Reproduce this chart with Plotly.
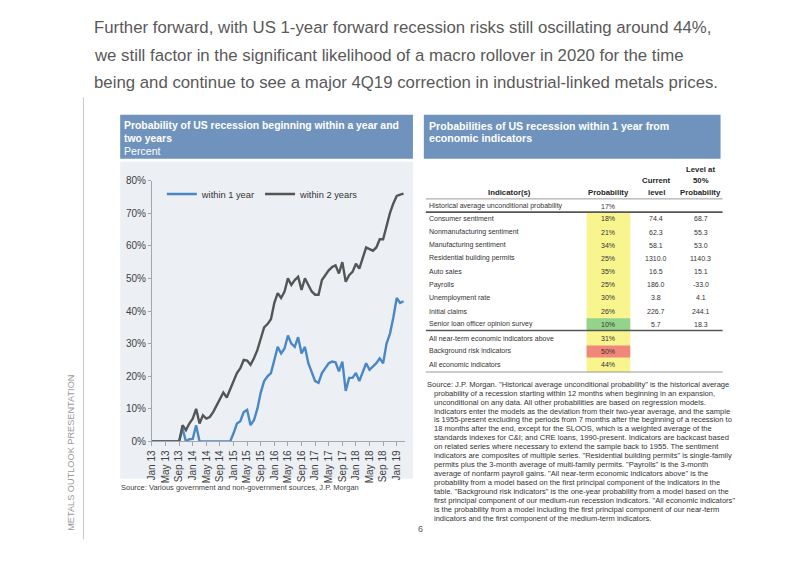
import plotly.graph_objects as go

# The page body keeps the browser's default 8px margin, so the figure is sized to
# fill the 802x567 window exactly and slide coordinates are shifted by that margin.
PAGE_W, PAGE_H = 802, 567
M = 8
W, H = PAGE_W - 2 * M, PAGE_H - 2 * M
FONT = "Liberation Sans, Arial, sans-serif"

# ---------------- data ----------------
months_idx = list(range(75))  # Jan 13 ... Mar 19 (monthly)
tick_labels = ["Jan 13", "May 13", "Sep 13", "Jan 14", "May 14", "Sep 14", "Jan 15",
               "May 15", "Sep 15", "Jan 16", "May 16", "Sep 16", "Jan 17", "May 17",
               "Sep 17", "Jan 18", "May 18", "Sep 18", "Jan 19"]

within_1_year = [0, 0, 0, 0, 0, 0, 0, 0, 0, 4, 0, 0.7, 0.8, 5,
                 0, 0, 0, 0, 0, 0, 0, 0, 0, 0,
                 2.5, 5.5, 6.2, 9, 9.7, 5, 6.5, 10, 15, 18.5, 20, 21, 25, 29, 27, 28.5,
                 32.5, 30, 29, 32, 27, 29, 24, 21, 18.5, 18, 21, 22.5, 24, 24.5, 24.3,
                 21.5, 24.5, 15.5, 19.5, 19.5, 21, 18.5, 21.5, 24, 22, 23, 24, 25.5, 24,
                 30, 33, 38, 44, 42.5, 43]

within_2_years = [0, 0, 0, 0, 0, 0, 0, 0, 0, 5, 3.5, 5.5, 7, 10, 5.5, 8, 7, 7.5, 9, 11,
                  13, 15, 13.5, 16, 18, 21, 22.5, 25, 24.8, 23.5, 25.5, 28, 31.5, 35, 36,
                  37.5, 42.5, 45.5, 44, 46, 50, 48, 49.5, 50.5, 46.5, 50, 48, 46, 45, 45,
                  49.5, 51, 52.5, 53.5, 54, 51.5, 55, 49, 51, 52, 54.5, 53, 56, 59.5, 59,
                  58.5, 59.5, 62, 62, 66, 70, 73, 75.3, 75.7, 76]

indicators = ["Historical average unconditional probability", "Consumer sentiment",
              "Nonmanufacturing sentiment", "Manufacturing sentiment",
              "Residential building permits", "Auto sales", "Payrolls",
              "Unemployment rate", "Initial claims", "Senior loan officer opinion survey",
              "All near-term economic indicators above", "Background risk indicators",
              "All economic indicators"]
probability = ["17%", "18%", "21%", "34%", "25%", "35%", "25%", "30%", "26%", "10%",
               "31%", "50%", "44%"]
current_level = ["", "74.4", "62.3", "58.1", "1310.0", "16.5", "186.0", "3.8", "226.7",
                 "5.7", "", "", ""]
level_at_50 = ["", "68.7", "55.3", "53.0", "1140.3", "15.1", "-33.0", "4.1", "244.1",
               "18.3", "", "", ""]

title_lines = [
    "Further forward, with US 1-year forward recession risks still oscillating around 44%,",
    "we still factor in the significant likelihood of a macro rollover in 2020 for the time",
    "being and continue to see a major 4Q19 correction in industrial-linked metals prices.",
]

footnote_lines = [
    "Source: J.P. Morgan. \"Historical average unconditional probability\" is the historical average",
    "probability of a recession starting within 12 months when beginning in an expansion,",
    "unconditional on any data. All other probabilities are based on regression models.",
    "Indicators enter the models as the deviation from their two-year average, and the sample",
    "is 1955-present excluding the periods from 7 months after the beginning of a recession to",
    "18 months after the end, except for the SLOOS, which is a weighted average of the",
    "standards indexes for C&amp;I; and CRE loans, 1990-present. Indicators are backcast based",
    "on related series where necessary to extend the sample back to 1955. The sentiment",
    "indicators are composites of multiple series. \"Residential building permits\" is single-family",
    "permits plus the 3-month average of multi-family permits. \"Payrolls\" is the 3-month",
    "average of nonfarm payroll gains. \"All near-term economic indicators above\" is the",
    "probability from a model based on the first principal component of the indicators in the",
    "table. \"Background risk indicators\" is the one-year probability from a model based on the",
    "first principal component of our medium-run recession indicators. \"All economic indicators\"",
    "is the probability from a model including the first principal component of our near-term",
    "indicators and the first component of the medium-term indicators.",
]

# ---------------- helpers (page pixel -> paper fraction) ----------------
def px(x):
    return (x - M) / W

def py(y):
    return 1 - (y - M) / H

annotations = []
shapes = []

def txt(x, y, s, size, color="#333333", xanchor="left", angle=0):
    annotations.append(dict(x=px(x), y=py(y), xref="paper", yref="paper", text=s,
                            showarrow=False, xanchor=xanchor, yanchor="middle",
                            textangle=angle, borderpad=0,
                            font=dict(size=size, color=color, family=FONT)))

def rect(x0, y0, x1, y1, fill=None, line=None, lw=0, layer="below"):
    shapes.append(dict(type="rect", xref="paper", yref="paper",
                       x0=px(x0), x1=px(x1), y0=py(y1), y1=py(y0),
                       fillcolor=fill if fill else "rgba(0,0,0,0)",
                       line=dict(color=line if line else "rgba(0,0,0,0)", width=lw),
                       layer=layer))

def hline(x0, x1, y, color, lw):
    shapes.append(dict(type="line", xref="paper", yref="paper", x0=px(x0), x1=px(x1),
                       y0=py(y), y1=py(y), line=dict(color=color, width=lw)))

# ---------------- page furniture ----------------
shapes.append(dict(type="line", xref="paper", yref="paper", x0=px(78), x1=px(78),
                   y0=py(93), y1=py(545), line=dict(color="#C8C8C8", width=1)))
txt(66, 457, "METALS OUTLOOK PRESENTATION", 9.2, "#9A9A9A", xanchor="center", angle=-90)
txt(418, 534, "6", 9, "#595959", xanchor="center")

for i, line in enumerate(title_lines):
    txt(88, 22 + 28 * i, line, 16.8, "#595959")

# ---------------- left chart ----------------
HEAD = "#6F93BC"
BG = "#ECF0F4"
rect(115, 111, 410, 156, fill=HEAD)
rect(115, 159, 410, 483, fill=BG)
txt(118, 122, "<b>Probability of US recession beginning within a year and</b>", 10.4, "white")
txt(118, 135, "<b>two years</b>", 10.4, "white")
txt(118, 148, "Percent", 10.6, "white")
txt(115, 492, "Source: Various government and non-government sources, J.P. Morgan", 7.5, "#404040")

fig = go.Figure()
fig.add_trace(go.Scatter(x=months_idx, y=within_1_year, mode="lines", name="within 1 year",
                         line=dict(color="#4A87C6", width=2.4)))
fig.add_trace(go.Scatter(x=months_idx, y=within_2_years, mode="lines", name="within 2 years",
                         line=dict(color="#555555", width=2.4)))

# ---------------- right table ----------------
rect(421, 111, 720, 156, fill=HEAD)
txt(425, 122, "<b>Probabilities of US recession within 1 year from</b>", 10.6, "white")
txt(425, 135, "<b>economic indicators</b>", 10.6, "white")

COL_P, COL_C, COL_L = 607, 655, 700
hs = 7.8
hc = "#262626"
txt(507, 190, "<b>Indicator(s)</b>", hs, hc, "center")
txt(COL_P, 190, "<b>Probability</b>", hs, hc, "center")
txt(COL_C, 178.5, "<b>Current</b>", hs, hc, "center")
txt(COL_C, 190, "<b>level</b>", hs, hc, "center")
txt(COL_L, 167, "<b>Level at</b>", hs, hc, "center")
txt(COL_L, 178.5, "<b>50%</b>", hs, hc, "center")
txt(COL_L, 190, "<b>Probability</b>", hs, hc, "center")

def row_y(i):
    if i == 0:
        return 204.5
    if i <= 9:
        return 217.5 + 13.45 * (i - 1)
    return 339.5 + 13.5 * (i - 10)

# probability column fill
rect(585, 211, 629, 374, fill="#F9F58E")
fills = {9: "#93D38C", 11: "#F0877A"}
for i, c in fills.items():
    rect(585, row_y(i) - 6.2, 629, row_y(i) + 6.2, fill=c)

hline(423, 722, 197, "#7F7F7F", 0.8)
hline(423, 722, 210.5, "#555555", 1.6)
hline(423, 722, 331.5, "#555555", 1.6)
hline(423, 722, 374, "#7F7F7F", 0.8)

rs = 7.0
rc = "#333333"
for i in range(len(indicators)):
    y = row_y(i)
    txt(425, y, indicators[i], rs, rc)
    txt(COL_P, y, probability[i], rs, rc, "center")
    if current_level[i]:
        txt(COL_C, y, current_level[i], rs, rc, "center")
    if level_at_50[i]:
        txt(COL_L, y, level_at_50[i], rs, rc, "center")

for i, line in enumerate(footnote_lines):
    txt(423 if i == 0 else 430, 386.5 + 9.13 * i, line, 7.55, "#333333")

# ---------------- layout ----------------
ppm = 3.426
fig.update_layout(
    width=W, height=H, autosize=False,
    margin=dict(l=0, r=0, t=0, b=0),
    paper_bgcolor="white", plot_bgcolor=BG,
    font=dict(family=FONT, color="#404040"),
    showlegend=True,
    legend=dict(orientation="h", x=px(157), y=py(192), xanchor="left", yanchor="middle",
                bgcolor="rgba(0,0,0,0)", font=dict(size=9.3, color="#333333"),
                itemwidth=30, tracegroupgap=0),
    xaxis=dict(domain=[px(147), px(147 + 74.4 * ppm)], range=[0, 74.4],
               tickvals=list(range(0, 73, 4)), ticktext=tick_labels, tickangle=-90,
               showline=True, linecolor="#A6A6A6", linewidth=1, ticks="outside",
               ticklen=4, tickcolor="#A6A6A6", showgrid=False, zeroline=False,
               tickfont=dict(size=10, color="#404040")),
    yaxis=dict(domain=[py(445), py(178.3)], range=[0, 80], dtick=10, ticksuffix="%",
               showline=True, linecolor="#A6A6A6", linewidth=1, ticks="outside",
               ticklen=3, tickcolor="#A6A6A6", showgrid=False, zeroline=False,
               tickfont=dict(size=10, color="#404040")),
    annotations=annotations, shapes=shapes,
)

fig.write_html("out.html", config={"displayModeBar": False})
